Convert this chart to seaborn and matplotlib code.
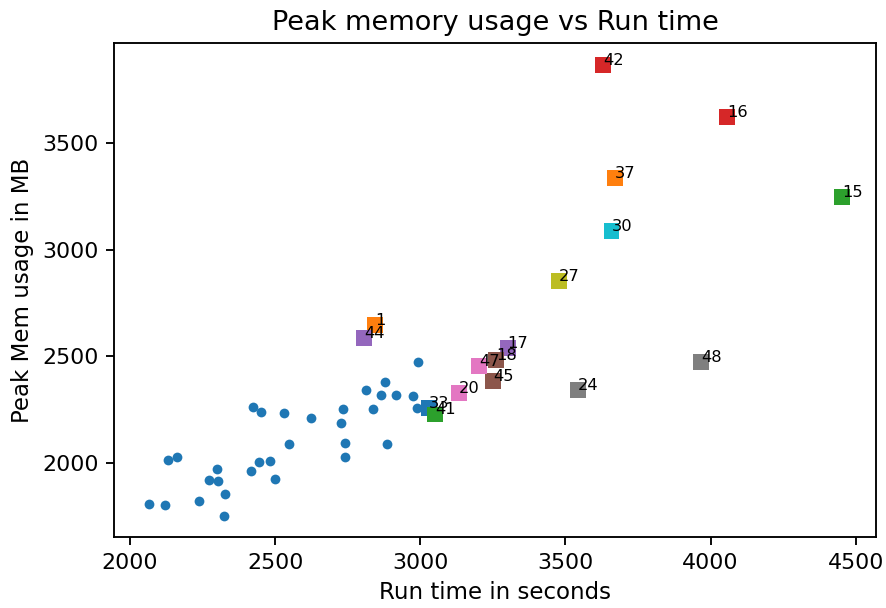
import matplotlib
matplotlib.use("Agg")
import matplotlib.pyplot as plt
import numpy as np
import pandas as pd
import seaborn as sns

# plain runs (blue dots)
run_time = [2064, 2121, 2239, 2324, 2326, 2272, 2304, 2301, 2132, 2161,
            2416, 2444, 2483, 2498, 2424, 2452, 2530, 2547, 2625, 2733,
            2726, 2742, 2742, 2813, 2877, 2866, 2838, 2884, 2917, 2976,
            2988, 2993]
peak_mem = [1808, 1803, 1819, 1752, 1855, 1921, 1913, 1971, 2012, 2026,
            1963, 2004, 2008, 1923, 2262, 2237, 2232, 2087, 2212, 2252,
            2188, 2091, 2029, 2340, 2379, 2317, 2252, 2087, 2317, 2313,
            2256, 2473]

# highlighted runs (squares with labels)
run_ids = [1, 15, 16, 17, 18, 20, 24, 27, 30, 33, 37, 41, 42, 44, 45, 47, 48]
run_ids_time = [2844, 4454, 4058, 3301, 3261, 3132, 3543, 3477, 3659, 3029,
                3671, 3051, 3629, 2807, 3251, 3202, 3968]
run_ids_mem = [2646, 3247, 3623, 2537, 2482, 2327, 2341, 2853, 3086, 2256,
               3334, 2227, 3864, 2587, 2384, 2455, 2473]

tab10 = sns.color_palette("tab10")
# colour cycle continues after the blue dots
sq_colors = [tab10[(i + 1) % 10] for i in range(len(run_ids))]

dots = pd.DataFrame({"time": run_time, "mem": peak_mem})
marked = pd.DataFrame({"time": run_ids_time, "mem": run_ids_mem,
                       "run": [str(r) for r in run_ids]})

fig = plt.figure(figsize=(886 / 150, 608 / 150), dpi=150)
ax = fig.add_axes([114 / 886, 1 - 537.3 / 608, (876 - 114) / 886, (537.3 - 42.7) / 608])

sns.scatterplot(data=dots, x="time", y="mem", color=tab10[0], s=22,
                linewidth=0, ax=ax)
sns.scatterplot(data=marked, x="time", y="mem", hue="run", palette=sq_colors,
                marker="s", s=58, linewidth=0, legend=False, ax=ax)

for r, x, y in zip(run_ids, run_ids_time, run_ids_mem):
    ax.annotate(str(r), (x, y), fontsize=7.8)

ax.set_xlim(1945, 4570)
ax.set_ylim(1651, 3970)
ax.set_xticks([2000, 2500, 3000, 3500, 4000, 4500])
ax.set_yticks([2000, 2500, 3000, 3500])
ax.tick_params(labelsize=10.6, length=4, width=0.9)
for s in ax.spines.values():
    s.set_linewidth(0.9)
ax.set_title("Peak memory usage vs Run time", fontsize=13)
ax.set_xlabel("Run time in seconds", fontsize=11)
ax.set_ylabel("Peak Mem usage in MB", fontsize=11)

fig.savefig("out.png", dpi=150)
